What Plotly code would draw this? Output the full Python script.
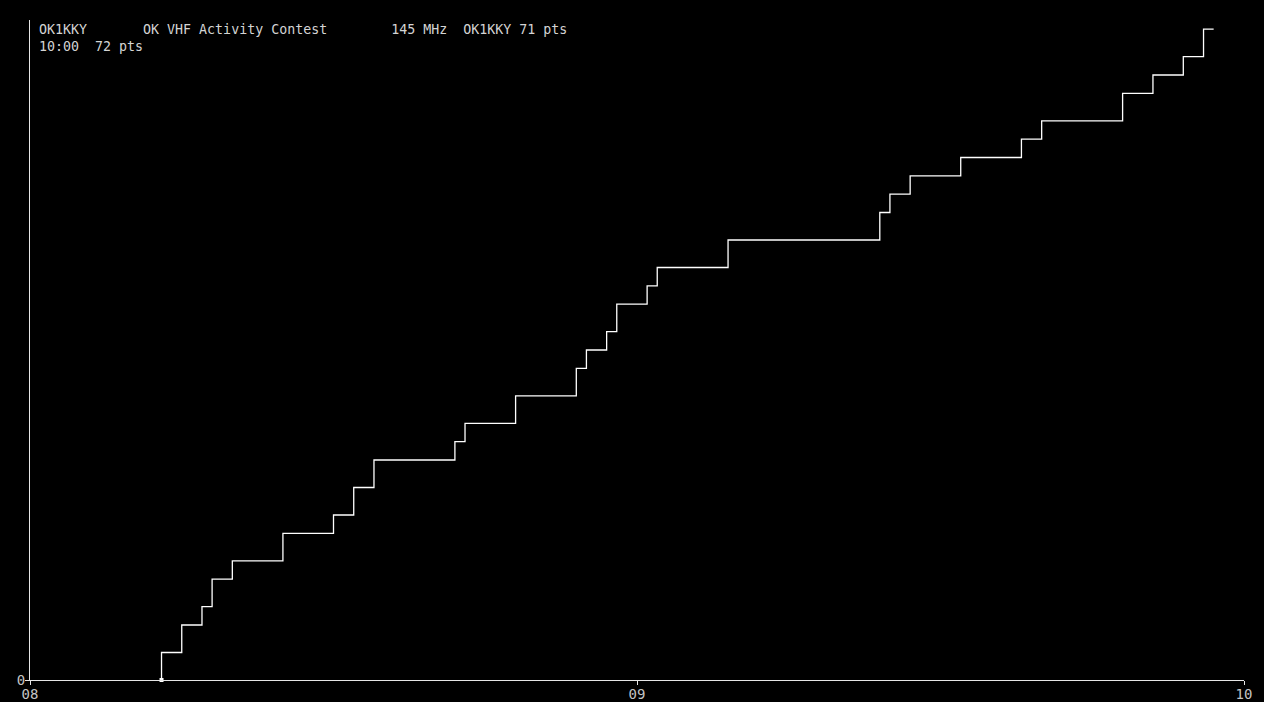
import numpy as np
import plotly.graph_objects as go

# QSO log: minutes after 08:00 and points per QSO
qso_minutes = [13, 15, 17, 18, 20, 25, 30, 32, 34, 42, 43, 48, 54, 55, 57,
               58, 61, 62, 69, 84, 85, 87, 92, 98, 100, 108, 111, 114, 116]
qso_points = [3, 3, 2, 3, 2, 3, 2, 3, 3, 2, 2, 3, 3, 2, 2,
              3, 2, 2, 3, 3, 2, 2, 2, 2, 2, 3, 2, 2, 3]
start_minute = 13
end_minute = 117
y_max = 72

tick_minutes = [0, 60, 120]
tick_labels = ["08", "09", "10"]

header_line1 = "OK1KKY       OK VHF Activity Contest        145 MHz  OK1KKY 71 pts"
header_line2 = "10:00  72 pts"

MONO = "DejaVu Sans Mono, Liberation Mono, monospace"

total = np.cumsum(qso_points)
xs = [start_minute] + qso_minutes + [end_minute]
ys = [0] + list(total) + [int(total[-1])]

fig = go.Figure()
fig.add_trace(go.Scatter(
    x=xs, y=ys, mode="lines", line_shape="hv",
    line=dict(color="#ffffff", width=1.3),
    hoverinfo="skip", showlegend=False, cliponaxis=False))
# small start marker on the baseline
fig.add_trace(go.Scatter(
    x=[start_minute], y=[0], mode="markers",
    marker=dict(symbol="square", size=4, color="#ffffff"),
    hoverinfo="skip", showlegend=False, cliponaxis=False))

fig.update_xaxes(
    range=[0, 120], tickvals=tick_minutes, ticktext=tick_labels,
    showgrid=False, zeroline=False, showline=True, linecolor="#e6e6e6",
    linewidth=1, ticks="outside", ticklen=4, tickcolor="#e6e6e6",
    automargin=False, ticklabelstandoff=-3,
    tickfont=dict(family=MONO, size=14, color="#c4c4c4"))
fig.update_yaxes(
    range=[0, y_max], tickvals=[0], ticktext=["0"],
    showgrid=False, zeroline=False, showline=True, linecolor="#e6e6e6",
    linewidth=1, ticks="outside", ticklen=4, tickcolor="#e6e6e6",
    automargin=False, ticklabelstandoff=-3,
    tickfont=dict(family=MONO, size=14, color="#c4c4c4"))

for txt, ypix in [(header_line1, 29), (header_line2, 47)]:
    fig.add_annotation(
        text=txt.replace(" ", "\u00a0"), xref="paper", yref="paper",
        x=7 / 1214, y=1 - (ypix - 20) / 660, xanchor="left", yanchor="middle",
        showarrow=False, font=dict(family=MONO, size=13.3, color="#d4d4d4"))

fig.update_layout(
    width=1264, height=702, autosize=False,
    paper_bgcolor="#000000", plot_bgcolor="#000000",
    margin=dict(l=30, r=20, t=20, b=22))

# black page with no body margin, like a terminal screen
fig.write_html(
    "out.html",
    config={"displayModeBar": False, "responsive": False},
    post_script="document.body.style.margin='0';"
                "document.body.style.background='#000';"
                "document.body.style.overflow='hidden';")
